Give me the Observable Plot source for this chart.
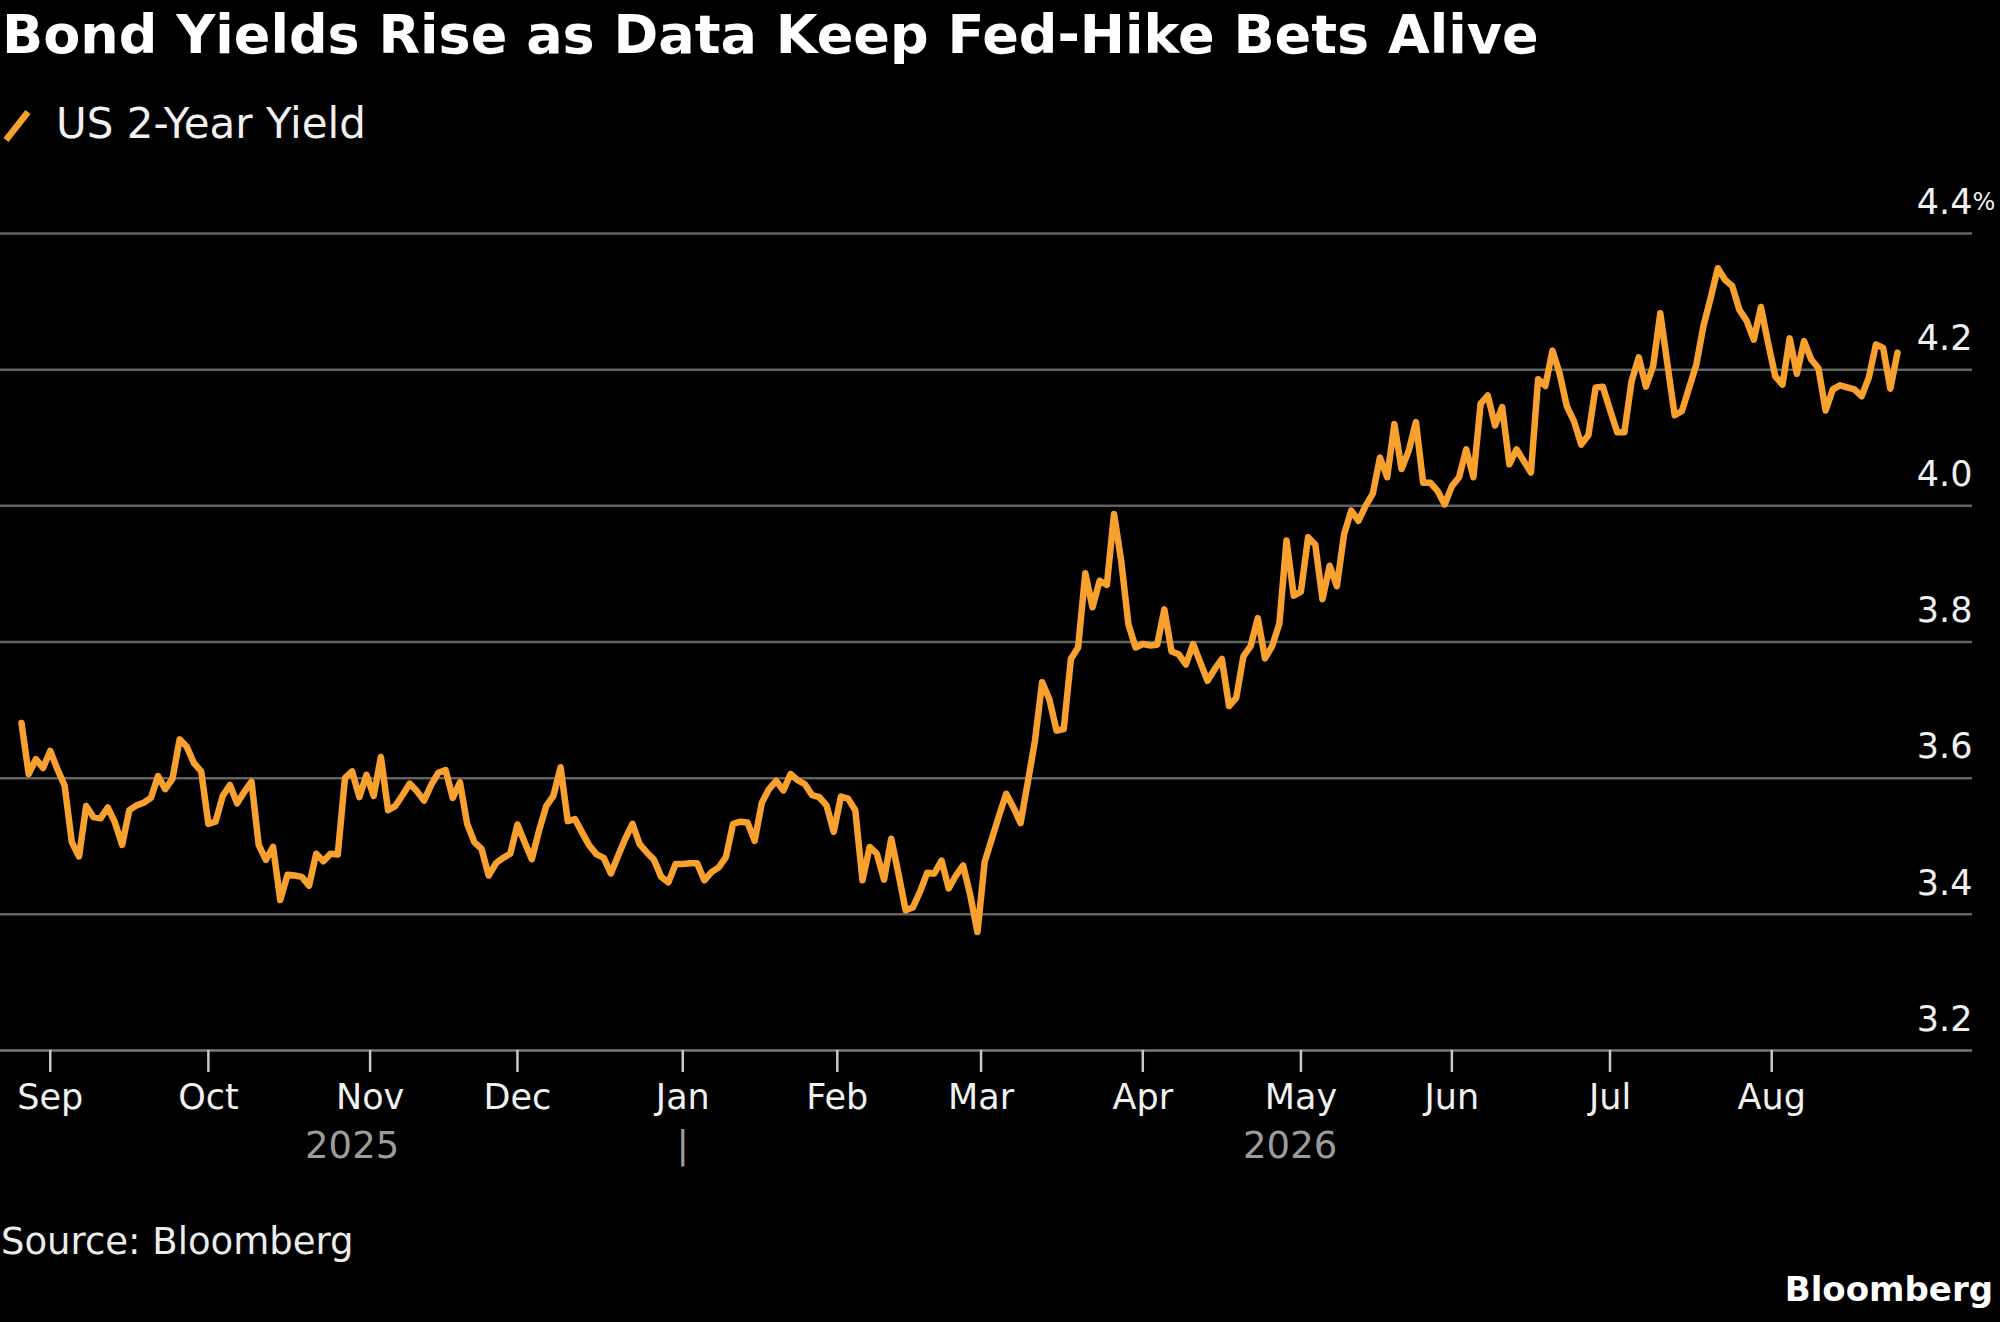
<!DOCTYPE html>
<html>
<head>
<meta charset="utf-8">
<script src="https://cdn.jsdelivr.net/npm/d3@7"></script>
<script src="https://cdn.jsdelivr.net/npm/@observablehq/plot@0.6"></script>
<style>
  html, body { margin: 0; padding: 0; background: #000; }
  body { width: 2000px; height: 1322px; position: relative; overflow: hidden;
         font-family: "DejaVu Sans", sans-serif; color: #fff; }
  .abs { position: absolute; white-space: nowrap; line-height: 1; }
  #title { left: 2px; top: 8px; font-size: 54px; font-weight: bold; color: #fff; }
  #legend-swatch { position: absolute; left: 0; top: 105px; }
  #legend { left: 56px; top: 103px; font-size: 42px; color: #f0f0f0; }
  #chart { position: absolute; left: 0; top: 160px; }
  #source { left: 1px; top: 1223px; font-size: 37px; color: #ececec; }
  #logo { right: 7px; top: 1272px; font-size: 34px; font-weight: bold; color: #fff; }
</style>
</head>
<body>
<div id="title" class="abs">Bond Yields Rise as Data Keep Fed-Hike Bets Alive</div>
<svg id="legend-swatch" width="40" height="40"><line x1="6" y1="35" x2="28" y2="7" stroke="#f9a12e" stroke-width="6.5"/></svg>
<div id="legend" class="abs">US 2-Year Yield</div>
<div id="chart"></div>
<div id="source" class="abs">Source: Bloomberg</div>
<div id="logo" class="abs">Bloomberg</div>
<script>
// US 2-year yield, one value per weekday starting 2025-08-26 (percent)
const startDate = "2025-08-26";
const yields = [
  3.681, 3.606, 3.628, 3.615, 3.640, 3.613, 3.589, 3.506, 3.485, 3.559,
  3.543, 3.541, 3.557, 3.535, 3.502, 3.553, 3.560, 3.564, 3.571, 3.603,
  3.584, 3.599, 3.657, 3.646, 3.622, 3.610, 3.533, 3.536, 3.574, 3.590,
  3.563, 3.580, 3.595, 3.502, 3.480, 3.499, 3.421, 3.458, 3.457, 3.455,
  3.442, 3.489, 3.478, 3.489, 3.488, 3.600, 3.610, 3.572, 3.605, 3.574,
  3.631, 3.553, 3.559, 3.575, 3.592, 3.581, 3.567, 3.590, 3.608, 3.612,
  3.571, 3.594, 3.533, 3.506, 3.496, 3.457, 3.475, 3.483, 3.489, 3.532,
  3.506, 3.481, 3.523, 3.559, 3.574, 3.616, 3.537, 3.540, 3.520, 3.501,
  3.488, 3.483, 3.460, 3.486, 3.511, 3.533, 3.503, 3.491, 3.480, 3.455,
  3.447, 3.474, 3.474, 3.475, 3.475, 3.450, 3.462, 3.469, 3.484, 3.533,
  3.536, 3.535, 3.508, 3.564, 3.584, 3.596, 3.582, 3.606, 3.597, 3.591,
  3.575, 3.572, 3.560, 3.521, 3.573, 3.570, 3.553, 3.450, 3.499, 3.489,
  3.451, 3.511, 3.460, 3.406, 3.410, 3.433, 3.461, 3.460, 3.479, 3.438,
  3.457, 3.472, 3.428, 3.374, 3.477, 3.511, 3.545, 3.577, 3.557, 3.534,
  3.594, 3.655, 3.741, 3.716, 3.670, 3.672, 3.775, 3.792, 3.901, 3.851,
  3.890, 3.884, 3.988, 3.919, 3.826, 3.792, 3.797, 3.795, 3.796, 3.848,
  3.786, 3.782, 3.767, 3.797, 3.770, 3.743, 3.760, 3.775, 3.706, 3.718,
  3.779, 3.794, 3.835, 3.776, 3.794, 3.827, 3.949, 3.868, 3.874, 3.954,
  3.943, 3.863, 3.912, 3.882, 3.958, 3.993, 3.978, 4.000, 4.018, 4.071,
  4.042, 4.120, 4.054, 4.081, 4.123, 4.034, 4.034, 4.022, 4.002, 4.029,
  4.042, 4.083, 4.042, 4.150, 4.162, 4.118, 4.145, 4.061, 4.083, 4.066,
  4.049, 4.186, 4.176, 4.228, 4.194, 4.146, 4.124, 4.090, 4.104, 4.174,
  4.175, 4.141, 4.108, 4.108, 4.183, 4.218, 4.175, 4.205, 4.283, 4.207,
  4.133, 4.139, 4.173, 4.207, 4.264, 4.305, 4.349, 4.332, 4.323, 4.288,
  4.272, 4.244, 4.292, 4.239, 4.190, 4.178, 4.246, 4.194, 4.242, 4.215,
  4.202, 4.140, 4.171, 4.177, 4.174, 4.171, 4.161, 4.188, 4.237, 4.232,
  4.172, 4.225
];
const monthStarts = ["2025-09-01","2025-10-01","2025-11-01","2025-12-01","2026-01-01","2026-02-01",
                     "2026-03-01","2026-04-01","2026-05-01","2026-06-01","2026-07-01","2026-08-01"];
const monthLabels = ["Sep","Oct","Nov","Dec","Jan","Feb","Mar","Apr","May","Jun","Jul","Aug"];
const yearLabels = ["2025", "2026"];
const yearBreak = "2026-01-01";
const yTicks = [3.2, 3.4, 3.6, 3.8, 4.0, 4.2, 4.4];

// weekday calendar (the chart is spaced by trading day)
const DAY = 86400000;
const dates = [];
for (let t = Date.parse(startDate + "T00:00:00Z"); dates.length < yields.length; t += DAY) {
  const wd = new Date(t).getUTCDay();
  if (wd !== 0 && wd !== 6) dates.push(t);
}
function pos(s) {
  const t = Date.parse(s + "T00:00:00Z");
  const i = d3.bisectLeft(dates, t);
  const wd = new Date(t).getUTCDay();
  return (wd === 0 || wd === 6) ? i - 0.5 : i;
}
const rows = yields.map((v, i) => ({i, date: new Date(dates[i]), v}));
const ticks = monthStarts.map(pos);
const labelAt = new Map(ticks.map((p, k) => [p, monthLabels[k]]));
const jan = pos(yearBreak);
const last = rows.length - 1;
const years = [
  {x: jan / 2, t: yearLabels[0]},
  {x: (jan + last) / 2, t: yearLabels[1]},
  {x: jan, t: "|"}
];

const chart = Plot.plot({
  width: 2000, height: 1020,
  marginTop: 73, marginBottom: 130, marginLeft: 0, marginRight: 28,
  style: {background: "transparent", color: "#f0f0f0", fontFamily: "DejaVu Sans", fontSize: "34px"},
  x: {type: "linear", domain: [0, last], insetLeft: 21, insetRight: 75, axis: null, label: null},
  y: {domain: [3.2, 4.4], axis: null, label: null},
  marks: [
    Plot.ruleY(yTicks.slice(1), {stroke: "#626262", strokeWidth: 2.5}),
    Plot.ruleY([3.2], {stroke: "#7a7a7a", strokeWidth: 2.5}),
    Plot.axisX({ticks, tickFormat: d => labelAt.get(d), label: null, tickSize: 22, tickPadding: 12,
                stroke: "#c8c8c8", strokeWidth: 2.5, fill: "#f0f0f0", fontSize: 35}),
    Plot.text(years, {x: "x", text: "t", frameAnchor: "bottom", dy: 107, fill: "#9c9c9c", fontSize: 37}),
    Plot.text(yTicks, {y: d => d, text: d => d.toFixed(1), frameAnchor: "right", textAnchor: "end",
                       dy: -31, fill: "#f0f0f0", fontSize: 35}),
    Plot.text([4.4], {y: d => d, text: () => "%", frameAnchor: "right", textAnchor: "start",
                      dy: -31, fill: "#f0f0f0", fontSize: 24}),
    Plot.line(rows, {x: "i", y: "v", stroke: "#f9a12e", strokeWidth: 6.5, strokeLinejoin: "round"})
  ]
});
document.getElementById("chart").appendChild(chart);
</script>
</body>
</html>
